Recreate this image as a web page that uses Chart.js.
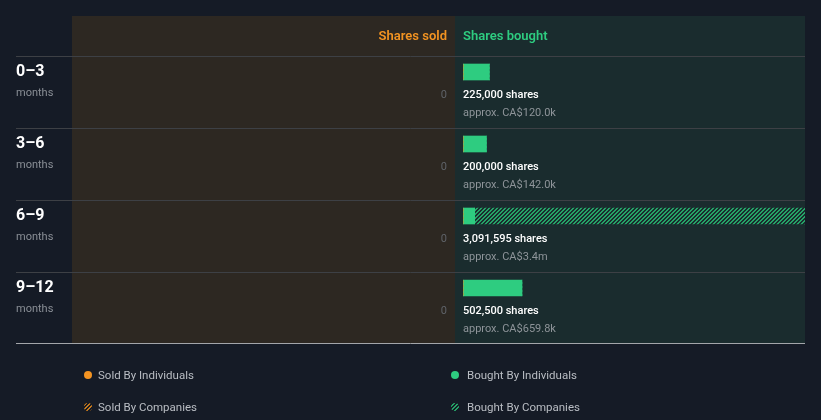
<!DOCTYPE html>
<html>
<head>
<meta charset="utf-8">
<script src="https://cdn.jsdelivr.net/npm/chart.js@4.4.1/dist/chart.umd.min.js"></script>
<style>
  html, body { margin: 0; padding: 0; background: #151b26; }
  canvas { display: block; }
</style>
</head>
<body>
<canvas id="c" width="821" height="420"></canvas>
<script>
// ---- data ----
const periods = ['0–3', '3–6', '6–9', '9–12'];
const periodUnit = 'months';
const soldIndividuals = [0, 0, 0, 0];
const soldCompanies = [0, 0, 0, 0];
const boughtIndividuals = [225000, 200000, 100000, 502500];
const boughtCompanies = [0, 0, 2991595, 0];
const boughtShareLabels = ['225,000 shares', '200,000 shares', '3,091,595 shares', '502,500 shares'];
const boughtValueLabels = ['approx. CA$120.0k', 'approx. CA$142.0k', 'approx. CA$3.4m', 'approx. CA$659.8k'];
const soldLabels = ['0', '0', '0', '0'];
const legendLabels = ['Sold By Individuals', 'Bought By Individuals', 'Sold By Companies', 'Bought By Companies'];
const headerSold = 'Shares sold';
const headerBought = 'Shares bought';

// ---- styles ----
const BG = '#151b26';
const SOLD_BG = '#2d2822';
const BOUGHT_BG = '#1a2c2e';
const GREEN = '#2ecc80';
const ORANGE = '#f39422';
const FONT = 'Roboto, "Noto Sans", sans-serif';

function makePattern(color) {
  const c = document.createElement('canvas');
  c.width = 8; c.height = 8;
  const ctx = c.getContext('2d');
  ctx.fillStyle = color;
  for (let x = 0; x < 8; x++) for (let y = 0; y < 8; y++) {
    if ((x + y) % 4 < 2) ctx.fillRect(x, y, 1, 1);
  }
  return ctx.createPattern(c, 'repeat');
}
const greenHatch = makePattern('#25a367');
const orangeHatch = makePattern('#c87a1c');

const panelPlugin = {
  id: 'panels',
  beforeDraw(chart) {
    const ctx = chart.ctx;
    const y = chart.scales.y;
    const rowH = y.getPixelForValue(1) - y.getPixelForValue(0);
    const top0 = y.getPixelForValue(0) - 16;
    const bottom = top0 + rowH * periods.length;
    const headerTop = top0 - 40;
    ctx.save();
    ctx.fillStyle = BG;
    ctx.fillRect(0, 0, chart.width, chart.height);
    ctx.fillStyle = SOLD_BG;
    ctx.fillRect(72, headerTop, 383, bottom - headerTop);
    ctx.fillStyle = BOUGHT_BG;
    ctx.fillRect(455, headerTop, 350, bottom - headerTop);
    // row separators
    ctx.strokeStyle = '#3d4045';
    ctx.lineWidth = 1;
    for (let i = 0; i < periods.length; i++) {
      const ly = Math.round(top0 + rowH * i) + 0.5;
      ctx.beginPath(); ctx.moveTo(16, ly); ctx.lineTo(805, ly); ctx.stroke();
    }
    ctx.strokeStyle = '#a3a6aa';
    ctx.beginPath(); ctx.moveTo(16, Math.round(bottom) - 0.5); ctx.lineTo(805, Math.round(bottom) - 0.5); ctx.stroke();
    // header
    ctx.font = '600 13px ' + FONT;
    ctx.textBaseline = 'middle';
    ctx.fillStyle = ORANGE; ctx.textAlign = 'right';
    ctx.fillText(headerSold, 447, headerTop + 20.5);
    ctx.fillStyle = GREEN; ctx.textAlign = 'left';
    ctx.fillText(headerBought, 463, headerTop + 20.5);
    // row labels and texts
    for (let i = 0; i < periods.length; i++) {
      const cy = y.getPixelForValue(i);
      ctx.textAlign = 'left';
      ctx.fillStyle = '#ffffff';
      ctx.font = 'bold 16px ' + FONT;
      ctx.fillText(periods[i], 16, cy - 0.5);
      ctx.fillStyle = '#8a8f96';
      ctx.font = '11px ' + FONT;
      ctx.fillText(periodUnit, 16, cy + 21);
      ctx.textAlign = 'right';
      ctx.fillStyle = '#5f6369';
      ctx.fillText(soldLabels[i], 447, cy + 23);
      ctx.textAlign = 'left';
      ctx.fillStyle = '#ffffff';
      ctx.font = '500 11px ' + FONT;
      ctx.fillText(boughtShareLabels[i], 463, cy + 23);
      ctx.fillStyle = '#8e9499';
      ctx.font = '11px ' + FONT;
      ctx.fillText(boughtValueLabels[i], 463, cy + 41);
    }
    // legend
    const items = [
      { x: 88, y: 375, fill: ORANGE },
      { x: 455, y: 375, fill: GREEN },
      { x: 88, y: 407, fill: orangeHatch },
      { x: 455, y: 407, fill: greenHatch },
    ];
    items.forEach((it, k) => {
      ctx.beginPath();
      ctx.arc(it.x, it.y, 4, 0, Math.PI * 2);
      ctx.fillStyle = it.fill;
      ctx.fill();
      ctx.fillStyle = '#b9bdc3';
      ctx.font = '11.5px ' + FONT;
      ctx.textAlign = 'left';
      ctx.fillText(legendLabels[k], it.x + (k % 2 ? 12 : 10), it.y + 1);
    });
    ctx.restore();
  }
};

new Chart(document.getElementById('c'), {
  type: 'bar',
  data: {
    labels: periods,
    datasets: [
      { label: 'Sold By Individuals', data: soldIndividuals, backgroundColor: ORANGE, stack: 'sold' },
      { label: 'Sold By Companies', data: soldCompanies, backgroundColor: orangeHatch, stack: 'sold' },
      { label: 'Bought By Individuals', data: boughtIndividuals, backgroundColor: GREEN, stack: 'bought' },
      { label: 'Bought By Companies', data: boughtCompanies, backgroundColor: greenHatch, stack: 'bought' },
    ]
  },
  options: {
    indexAxis: 'y',
    responsive: false,
    animation: false,
    layout: { padding: { left: 463, right: 16, top: 36, bottom: 96 } },
    datasets: { bar: { barThickness: 16, borderWidth: 0, grouped: false, borderSkipped: false } },
    scales: {
      x: { display: false, stacked: true, min: 0, max: 2912800 },
      y: { display: false, stacked: true }
    },
    plugins: { legend: { display: false }, tooltip: { enabled: false } }
  },
  plugins: [panelPlugin]
});
</script>
</body>
</html>
